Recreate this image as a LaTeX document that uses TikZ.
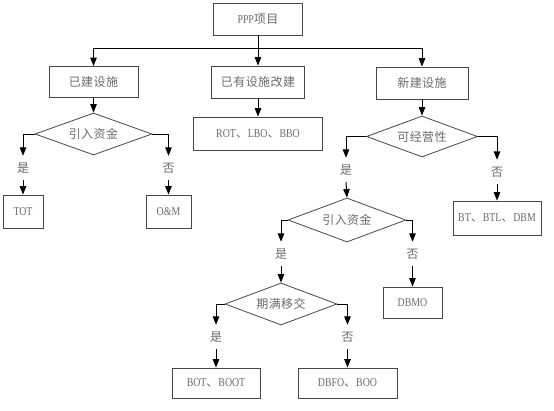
\documentclass[tikz,border=0pt]{standalone}
\usepackage{fontspec}
\setmainfont{Liberation Serif}[FakeStretch=0.82]
\newfontfamily\cjk{Noto Sans CJK SC}[LetterSpace=4]
\usetikzlibrary{arrows.meta,shapes.geometric}
\begin{document}
\begin{tikzpicture}[x=1pt,y=-1pt,
  every node/.style={text=black!58, font=\fontsize{12}{14}\selectfont},
  box/.style={draw=black!72, line width=0.8pt, rectangle, inner sep=0pt},
  dec/.style={draw=black!72, line width=0.8pt, diamond, inner sep=0pt, aspect=2.7},
  lab/.style={circle, fill=white, inner sep=0pt, minimum size=24pt},
  conn/.style={draw=black, line width=1pt},
  arr/.style={conn, -{Triangle[width=6.5pt,length=8.5pt]}}]
\useasboundingbox (0,0) rectangle (554,410);
\fill[white] (0,0) rectangle (554,410);
% boxes
\node[box, minimum width=89pt, minimum height=32pt] (ppp) at (258,19) {PPP{\cjk 项目}};
\node[box, minimum width=89pt, minimum height=31pt] (yj) at (93.5,82) {\cjk 已建设施};
\node[box, minimum width=93pt, minimum height=32pt] (yy) at (258,82) {\cjk 已有设施改建};
\node[box, minimum width=92pt, minimum height=32pt] (xj) at (422,83) {\cjk 新建设施};
\node[box, minimum width=129pt, minimum height=33pt] (rot) at (258,133.5) {ROT{\cjk 、}LBO{\cjk 、}BBO};
\node[box, minimum width=40pt, minimum height=33pt] (tot) at (23,211.5) {TOT};
\node[box, minimum width=45pt, minimum height=33pt] (om) at (168.5,211.5) {O\&M};
\node[box, minimum width=88pt, minimum height=34pt] (bt) at (497,218) {BT{\cjk 、}BTL{\cjk 、}DBM};
\node[box, minimum width=59pt, minimum height=31pt] (dbmo) at (412.5,302.5) {DBMO};
\node[box, minimum width=88pt, minimum height=30pt] (bot) at (216,383) {BOT{\cjk 、}BOOT};
\node[box, minimum width=99pt, minimum height=30pt] (dbfo) at (347.5,383) {DBFO{\cjk 、}BOO};
% decisions
\node[dec, minimum width=117pt, minimum height=42pt] (d1) at (93.5,134) {\cjk 引入资金};
\node[dec, minimum width=111pt, minimum height=41pt] (d2) at (422,136.5) {\cjk 可经营性};
\node[dec, minimum width=118pt, minimum height=44pt] (d3) at (347,220) {\cjk 引入资金};
\node[dec, minimum width=112pt, minimum height=42pt] (d4) at (281,304) {\cjk 期满移交};
% labels
\node[lab] (s1) at (23,168) {\cjk 是};
\node[lab] (f1) at (168.5,168) {\cjk 否};
\node[lab] (s2) at (346,170) {\cjk 是};
\node[lab] (f2) at (497,172) {\cjk 否};
\node[lab] (s3) at (281,254) {\cjk 是};
\node[lab] (f3) at (412.5,254) {\cjk 否};
\node[lab] (s4) at (216,337) {\cjk 是};
\node[lab] (f4) at (347.5,337) {\cjk 否};
% top distribution
\coordinate (hl) at (93.5,48);
\coordinate (hr) at (422,48);
\draw[conn] (hl) -- (hr);
\draw[arr] (ppp.south) -- (yy.north);
\draw[arr] (hl) -- (yj.north);
\draw[arr] (hr) -- (xj.north);
\draw[arr] (yj.south) -- (d1.north);
\draw[arr] (yy.south) -- (rot.north);
\draw[arr] (xj.south) -- (d2.north);
% branches
\draw[arr] (d1.west) -| (s1.north);
\draw[arr] (s1.south) -- (tot.north);
\draw[arr] (d1.east) -| (f1.north);
\draw[arr] (f1.south) -- (om.north);
\draw[arr] (d2.west) -| (s2.north);
\draw[arr] (s2.south) -- (d3.north);
\draw[arr] (d2.east) -| (f2.north);
\draw[arr] (f2.south) -- (bt.north);
\draw[arr] (d3.west) -| (s3.north);
\draw[arr] (s3.south) -- (d4.north);
\draw[arr] (d3.east) -| (f3.north);
\draw[arr] (f3.south) -- (dbmo.north);
\draw[arr] (d4.west) -| (s4.north);
\draw[arr] (s4.south) -- (bot.north);
\draw[arr] (d4.east) -| (f4.north);
\draw[arr] (f4.south) -- (dbfo.north);
\end{tikzpicture}
\end{document}
